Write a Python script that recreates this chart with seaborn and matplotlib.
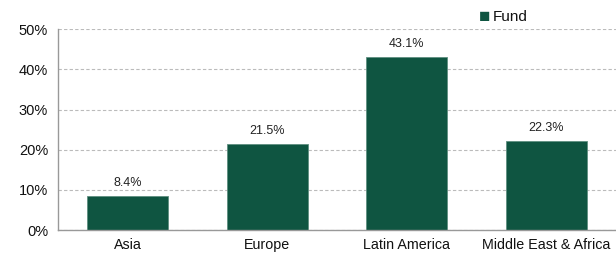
import matplotlib
matplotlib.use("Agg")
import matplotlib.pyplot as plt
import pandas as pd
import seaborn as sns
from matplotlib.ticker import PercentFormatter

regions = ["Asia", "Europe", "Latin America", "Middle East & Africa"]
fund = [8.4, 21.5, 43.1, 22.3]
yticks = [0, 10, 20, 30, 40, 50]

df = pd.DataFrame({"region": regions, "value": fund, "series": "Fund"})

sns.set_style("white")
plt.rcParams["font.family"] = ["Liberation Sans", "DejaVu Sans"]

fig = plt.figure(figsize=(6.16, 2.54), dpi=100)
ax = fig.add_axes([0.094, 0.094, 0.906, 0.791])

green = "#0f5541"
sns.barplot(data=df, x="region", y="value", hue="series", palette=[green],
            saturation=1, width=0.58, edgecolor="#5f8f80", linewidth=0.6,
            ax=ax, legend=False)

for c in ax.containers:
    ax.bar_label(c, labels=[f"{v:.1f}%" for v in fund], padding=5,
                 fontsize=9, color="#222222")

ax.set_ylim(0, 50)
ax.set_yticks(yticks)
ax.yaxis.set_major_formatter(PercentFormatter(decimals=0))
ax.set_xlim(-0.5, 3.5)
ax.set_xlabel("")
ax.set_ylabel("")
ax.grid(axis="y", color="#bbbbbb", linestyle=(0, (3, 2)), linewidth=0.8)
ax.set_axisbelow(True)
for s in ["top", "right"]:
    ax.spines[s].set_visible(False)
for s in ["left", "bottom"]:
    ax.spines[s].set_color("#999999")
    ax.spines[s].set_linewidth(1.0)
ax.tick_params(axis="y", length=0, labelsize=10.5, colors="#111111", pad=7)
ax.tick_params(axis="x", length=0, labelsize=10.3, colors="#111111", pad=5.5)

# legend drawn by hand: small square + label, top right
fig.text(0.777, 0.933, "\u25A0", color=green, fontsize=13.5, va="center")
fig.text(0.800, 0.933, "Fund", color="#111111", fontsize=11, va="center")

fig.savefig("out.png", dpi=100)
